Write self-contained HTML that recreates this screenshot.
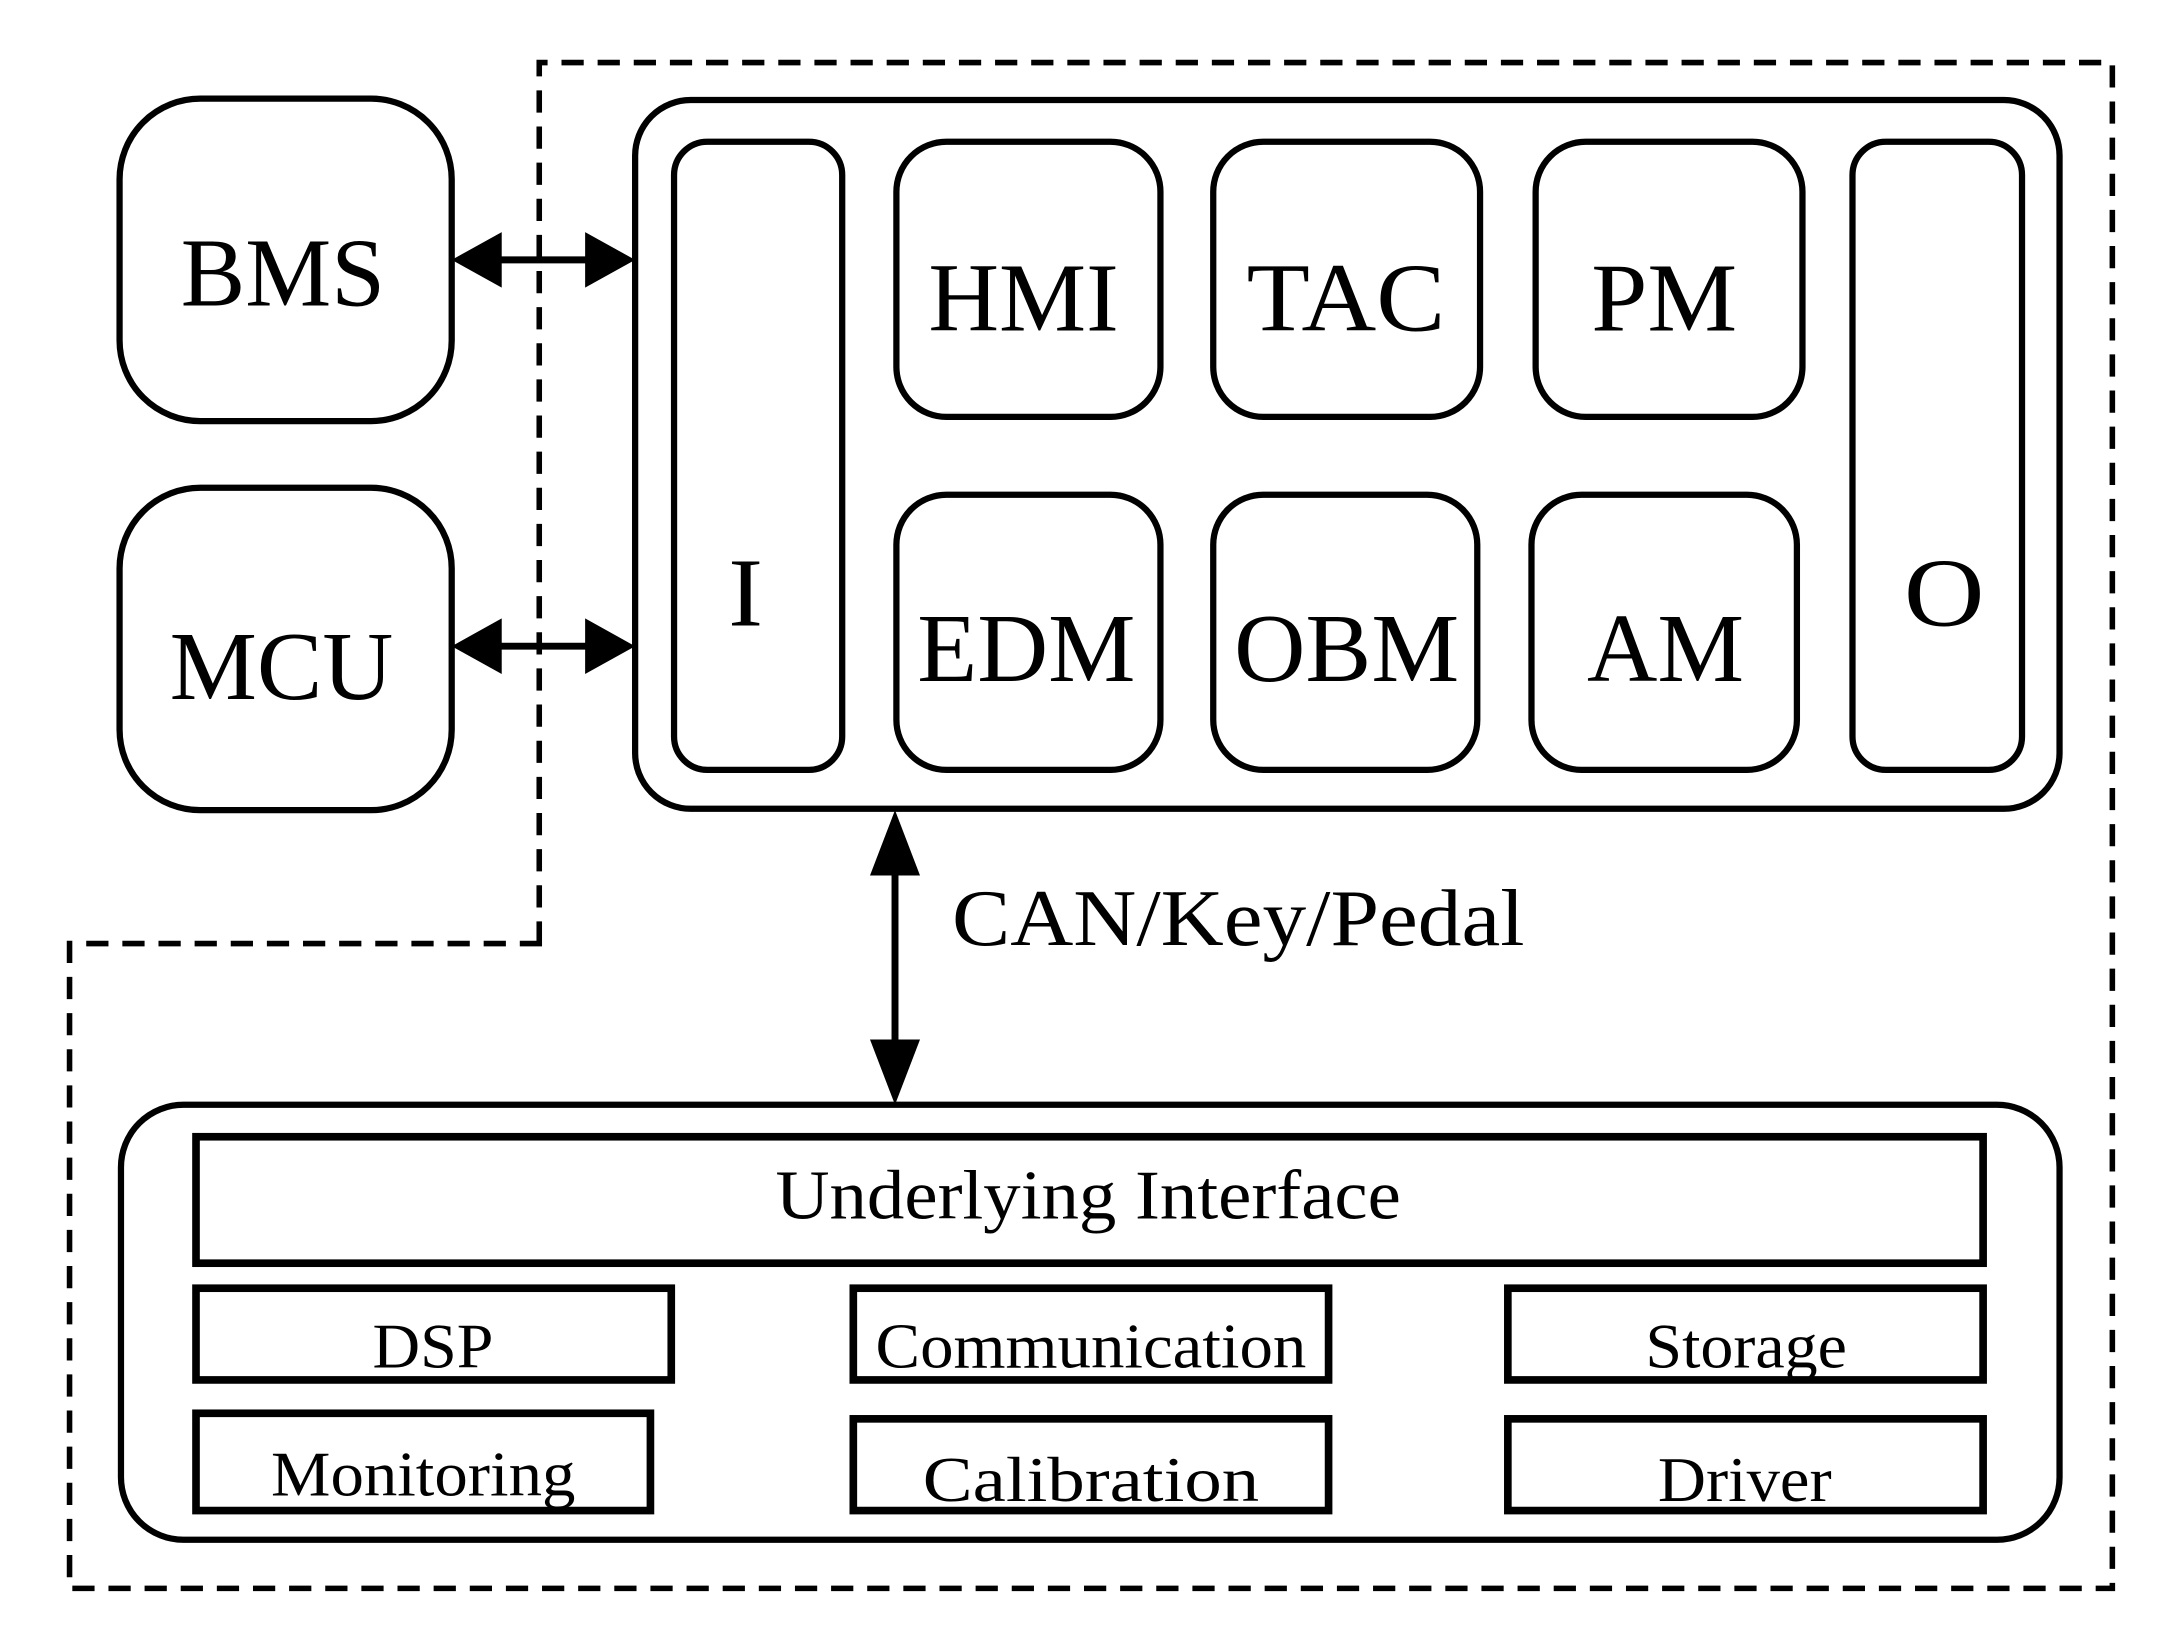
<!DOCTYPE html>
<html><head><meta charset="utf-8"><style>html,body{margin:0;padding:0;background:#fff}svg{display:block}</style></head>
<body>
<svg width="2168" height="1643" viewBox="0 0 1560 1182.3" xmlns="http://www.w3.org/2000/svg" font-family="Liberation Serif, serif">
<rect width="1560" height="1183" fill="#fff"/>
<g fill="none" stroke="#000">
<path d="M388 679 V45 H1520 V1143 H50 V679 Z" stroke-width="4" stroke-dasharray="16 10"/>
<g stroke-width="4.5">
<rect x="86" y="71" width="239" height="232" rx="58"/>
<rect x="86" y="351" width="239" height="232" rx="58"/>
<rect x="457" y="72" width="1025" height="510" rx="40"/>
<rect x="485" y="102" width="121" height="452" rx="24"/>
<rect x="645" y="102" width="190" height="198" rx="36"/>
<rect x="873" y="102" width="192" height="198" rx="36"/>
<rect x="1105" y="102" width="192" height="198" rx="36"/>
<rect x="645" y="356" width="190" height="198" rx="36"/>
<rect x="873" y="356" width="190" height="198" rx="36"/>
<rect x="1102" y="356" width="191" height="198" rx="36"/>
<rect x="1333" y="102" width="122" height="452" rx="24"/>
<rect x="87" y="795" width="1395" height="313" rx="45"/>
</g>
<g stroke-width="5.5">
<rect x="141" y="818" width="1286" height="91"/>
<rect x="141" y="927" width="342" height="66"/>
<rect x="614" y="927" width="342" height="66"/>
<rect x="1085" y="927" width="342" height="66"/>
<rect x="141" y="1017" width="327" height="70"/>
<rect x="614" y="1021" width="342" height="66"/>
<rect x="1085" y="1021" width="342" height="66"/>
</g>
<g stroke-width="5">
<line x1="350" y1="187" x2="432" y2="187"/>
<line x1="350" y1="465" x2="432" y2="465"/>
<line x1="644" y1="620" x2="644" y2="758"/>
</g>
</g>
<g fill="#000">
<polygon points="325,187 361,167 361,207"/>
<polygon points="457,187 421,167 421,207"/>
<polygon points="325,465 361,445 361,485"/>
<polygon points="457,465 421,445 421,485"/>
<polygon points="644,583 626,630 662,630"/>
<polygon points="644,795 626,748 662,748"/>
</g>
<g fill="#000" font-size="70" lengthAdjust="spacingAndGlyphs">
<text x="130" y="220" textLength="147" lengthAdjust="spacingAndGlyphs">BMS</text>
<text x="122" y="503" textLength="161" lengthAdjust="spacingAndGlyphs">MCU</text>
<text x="668" y="238" textLength="137" lengthAdjust="spacingAndGlyphs">HMI</text>
<text x="897" y="238" textLength="143" lengthAdjust="spacingAndGlyphs">TAC</text>
<text x="1145" y="238" textLength="105" lengthAdjust="spacingAndGlyphs">PM</text>
<text x="660" y="490" textLength="157" lengthAdjust="spacingAndGlyphs">EDM</text>
<text x="888" y="490" textLength="162" lengthAdjust="spacingAndGlyphs">OBM</text>
<text x="1142" y="490" textLength="113" lengthAdjust="spacingAndGlyphs">AM</text>
<text x="524" y="450" textLength="25" lengthAdjust="spacingAndGlyphs">I</text>
<text x="1370" y="450" textLength="58" lengthAdjust="spacingAndGlyphs">O</text>
<text x="685" y="680" font-size="58" textLength="412" lengthAdjust="spacingAndGlyphs">CAN/Key/Pedal</text>
<text x="558" y="877" font-size="50" textLength="450" lengthAdjust="spacingAndGlyphs">Underlying Interface</text>
<g font-size="46">
<text x="268" y="984" textLength="87" lengthAdjust="spacingAndGlyphs">DSP</text>
<text x="630" y="984" textLength="310" lengthAdjust="spacingAndGlyphs">Communication</text>
<text x="1184" y="984" textLength="145" lengthAdjust="spacingAndGlyphs">Storage</text>
<text x="195" y="1076" textLength="219" lengthAdjust="spacingAndGlyphs">Monitoring</text>
<text x="664" y="1080" textLength="242" lengthAdjust="spacingAndGlyphs">Calibration</text>
<text x="1193" y="1080" textLength="125" lengthAdjust="spacingAndGlyphs">Driver</text>
</g>
</g>
</svg>
</body></html>
